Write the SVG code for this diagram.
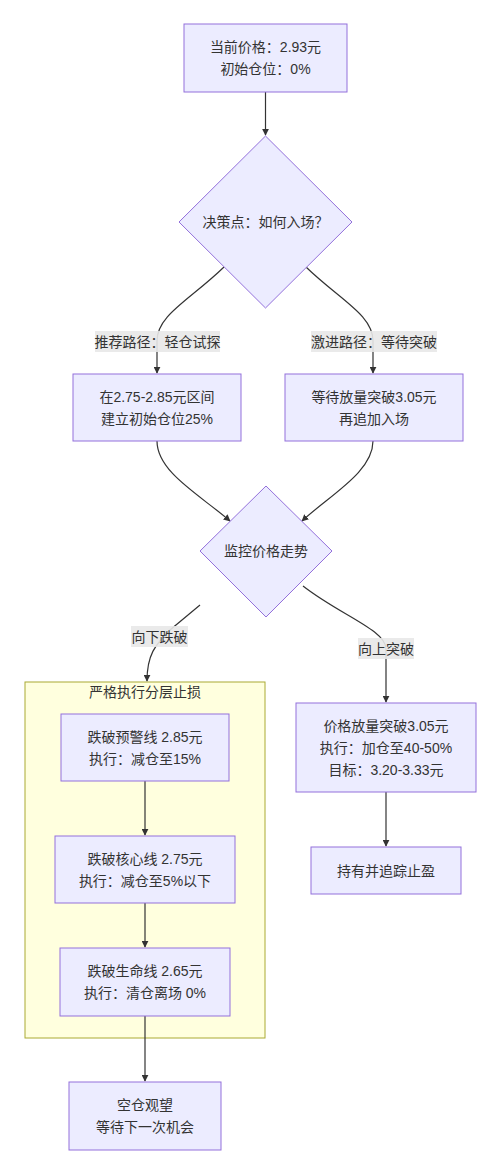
<svg xmlns="http://www.w3.org/2000/svg" width="500" height="1175" viewBox="0 0 500 1175">
<defs>
<style>
.node rect,.node polygon{fill:#ECECFF;stroke:#9370DB;stroke-width:1}
.t{font-family:"Liberation Sans","Noto Sans CJK SC",sans-serif;font-size:14px;fill:#333;text-anchor:middle;dominant-baseline:central}
.edge{fill:none;stroke:#333;stroke-width:1.2}
.lbl{fill:#e8e8e8;opacity:0.9}
.cluster{fill:#ffffde;stroke:#aaaa33;stroke-width:1}
</style>
<marker id="arr" viewBox="0 0 10 10" refX="9" refY="5" markerWidth="7" markerHeight="7" orient="auto-start-reverse" markerUnits="userSpaceOnUse">
<path d="M0,0 L10,5 L0,10 z" fill="#333"/>
</marker>
</defs>
<rect width="500" height="1175" fill="#fff"/>

<g id="cluster-stop">
<rect class="cluster" x="25" y="682" width="240" height="356"/>
<text class="t" x="145" y="692">严格执行分层止损</text>
</g>

<g id="connectors">
<path class="edge" d="M265.5,92 L265.5,135" marker-end="url(#arr)"/>
<path class="edge" d="M224,267 C190,300 157,315 157,341 L157,373" marker-end="url(#arr)"/>
<path class="edge" d="M306,267 C340,300 373,315 373,341 L373,373" marker-end="url(#arr)"/>
<path class="edge" d="M157,441 C157,472 200,495 230,521" marker-end="url(#arr)"/>
<path class="edge" d="M373,441 C373,472 330,495 302,521" marker-end="url(#arr)"/>
<path class="edge" d="M200,605 L170,630 C155,645 147,655 147,681" marker-end="url(#arr)"/>
<path class="edge" d="M303,586 C340,615 386,630 386,649 L386,702" marker-end="url(#arr)"/>
<path class="edge" d="M145,781 L145,835" marker-end="url(#arr)"/>
<path class="edge" d="M145,903 L145,947" marker-end="url(#arr)"/>
<path class="edge" d="M145,1016 L145,1081" marker-end="url(#arr)"/>
<path class="edge" d="M386,792 L386,846" marker-end="url(#arr)"/>
</g>

<g id="edge-labels">
<rect class="lbl" x="95" y="331" width="125" height="21"/>
<text class="t" x="157.5" y="341.5">推荐路径：轻仓试探</text>
<rect class="lbl" x="311" y="331" width="126" height="21"/>
<text class="t" x="374" y="341.5">激进路径：等待突破</text>
<rect class="lbl" x="131" y="626" width="57" height="21"/>
<text class="t" x="159.5" y="636.5">向下跌破</text>
<rect class="lbl" x="358" y="638" width="56" height="21"/>
<text class="t" x="386" y="648.5">向上突破</text>
</g>

<g id="start" class="node">
<rect x="184" y="24" width="163" height="68"/>
<text class="t" x="265.5" y="47">当前价格：2.93元</text>
<text class="t" x="265.5" y="69">初始仓位：0%</text>
</g>

<g id="decision" class="node">
<polygon points="265.5,136 352,222 265.5,308 179,222"/>
<text class="t" x="265.5" y="222">决策点：如何入场？</text>
</g>

<g id="light" class="node">
<rect x="73" y="374" width="168" height="67"/>
<text class="t" x="157" y="396.5">在2.75-2.85元区间</text>
<text class="t" x="157" y="418.5">建立初始仓位25%</text>
</g>

<g id="aggressive" class="node">
<rect x="285" y="374" width="178" height="67"/>
<text class="t" x="374" y="396.5">等待放量突破3.05元</text>
<text class="t" x="374" y="418.5">再追加入场</text>
</g>

<g id="monitor" class="node">
<polygon points="266,486 332,551 266,617 200,551"/>
<text class="t" x="266" y="551">监控价格走势</text>
</g>

<g id="warn" class="node">
<rect x="61" y="714" width="168" height="67"/>
<text class="t" x="145" y="737">跌破预警线 2.85元</text>
<text class="t" x="145" y="759">执行：减仓至15%</text>
</g>

<g id="core" class="node">
<rect x="55" y="836" width="180" height="67"/>
<text class="t" x="145" y="858.5">跌破核心线 2.75元</text>
<text class="t" x="145" y="880.5">执行：减仓至5%以下</text>
</g>

<g id="life" class="node">
<rect x="60" y="948" width="170" height="68"/>
<text class="t" x="145" y="971">跌破生命线 2.65元</text>
<text class="t" x="145" y="993">执行：清仓离场 0%</text>
</g>

<g id="empty" class="node">
<rect x="69" y="1082" width="152" height="68"/>
<text class="t" x="145" y="1105">空仓观望</text>
<text class="t" x="145" y="1127">等待下一次机会</text>
</g>

<g id="breakout" class="node">
<rect x="296" y="703" width="180" height="89"/>
<text class="t" x="386" y="725.5">价格放量突破3.05元</text>
<text class="t" x="386" y="747.5">执行：加仓至40-50%</text>
<text class="t" x="386" y="769.5">目标：3.20-3.33元</text>
</g>

<g id="hold" class="node">
<rect x="311" y="847" width="150" height="47"/>
<text class="t" x="386" y="870.5">持有并追踪止盈</text>
</g>
</svg>
